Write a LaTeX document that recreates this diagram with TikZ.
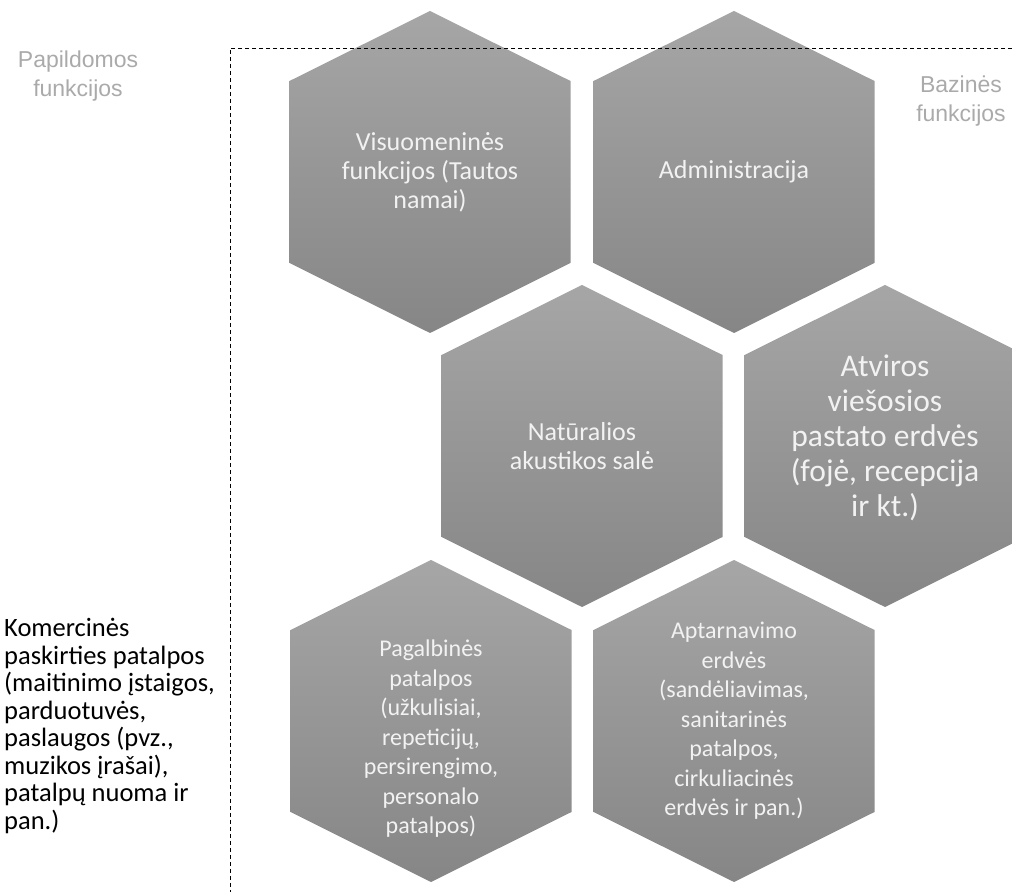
\documentclass[tikz,border=0pt]{standalone}
\usepackage{fontspec}
\setmainfont{Carlito}
\newfontfamily\arialfont{Liberation Sans}
\definecolor{hexTop}{RGB}{166,166,166}
\definecolor{hexBot}{RGB}{134,134,134}
\definecolor{sideGray}{RGB}{170,170,170}
\definecolor{hexText}{RGB}{242,242,242}

\begin{document}
\begin{tikzpicture}[x=1pt, y=1pt,
  hexfill/.style={top color=hexTop, bottom color=hexBot, draw=none},
  hextxt/.style={text=hexText, align=center, inner sep=0pt,
                 font=\fontsize{26}{29}\selectfont},
  smalltxt/.style={font=\fontsize{24}{29.5}\selectfont},
  side/.style={text=sideGray, align=center, inner sep=0pt,
               font=\arialfont\fontsize{23}{28.5}\selectfont},
  frame/.style={draw=black, line width=0.9pt, dash pattern=on 4pt off 3pt},
]
  \useasboundingbox (0,0) rectangle (1012,892);
  % hexagon cells
  \foreach \cx/\cy in {430/720, 734/720, 582/446, 885/446, 431/171, 734/171}
    \path[hexfill] (\cx,\cy+161) -- ++(140.5,-70) -- ++(0,-182) -- ++(-140.5,-70)
      -- ++(-140.5,70) -- ++(0,182) -- cycle;

  \node[hextxt] (visuom)  at (430,720) {Visuomeninės\\funkcijos (Tautos\\namai)};
  \node[hextxt] (admin)   at (734,720) {Administracija};
  \node[hextxt] (akust)   at (582,446) {Natūralios\\akustikos salė};
  \node[hextxt, font=\fontsize{31.5}{35}\selectfont] (atviros) at (885,454)
    {Atviros\\viešosios\\pastato erdvės\\(fojė, recepcija\\ir kt.)};
  \node[hextxt, smalltxt] (pagalb) at (431,153)
    {Pagalbinės\\patalpos\\(užkulisiai,\\repeticijų,\\persirengimo,\\personalo\\patalpos)};
  \node[hextxt, smalltxt] (aptarn) at (734,171)
    {Aptarnavimo\\erdvės\\(sandėliavimas,\\sanitarinės\\patalpos,\\cirkuliacinės\\erdvės ir pan.)};

  \node[side] (papild)  at (78,816)  {Papildomos\\funkcijos};
  \node[side] (bazines) at (961,791) {Bazinės\\funkcijos};
  \node[align=left, anchor=west, inner sep=0pt, font=\fontsize{26.5}{27.5}\selectfont]
    (komerc) at (4,166) {Komercinės\\paskirties patalpos\\(maitinimo įstaigos,\\parduotuvės,\\paslaugos (pvz.,\\muzikos įrašai),\\patalpų nuoma ir\\pan.)};

  % dashed border of the base functions
  \coordinate (fTop)    at (1012,844);
  \coordinate (fCorner) at (230,844);
  \coordinate (fBot)    at (230,0);
  \draw[frame] (fTop) -- (fCorner) -- (fBot);
\end{tikzpicture}
\end{document}
